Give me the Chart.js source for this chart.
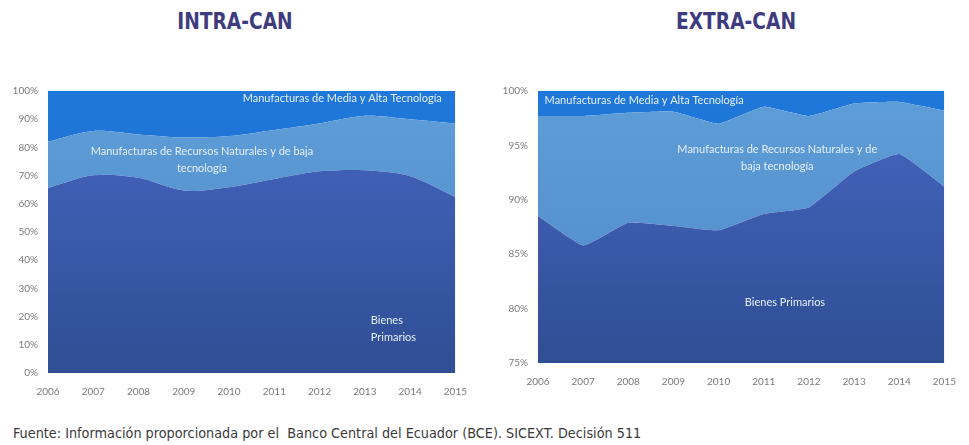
<!DOCTYPE html>
<html>
<head>
<meta charset="utf-8">
<script src="https://cdn.jsdelivr.net/npm/chart.js@4"></script>
<style>
  body { margin: 0; background: #fff; width: 969px; height: 445px; position: relative; overflow: hidden; }
  .title { position: absolute; top: 8px; font-family: "Liberation Sans Narrow", "DejaVu Sans Condensed", sans-serif;
           font-weight: bold; font-size: 23px; color: #3e3c7e; width: 300px; text-align: center; transform: scaleX(0.9); }
  .box { position: absolute; }
  #foot { position: absolute; left: 13px; top: 425px; font-family: "Liberation Sans Narrow", "DejaVu Sans Condensed", sans-serif;
          font-size: 14.5px; color: #3a3a3a; white-space: nowrap; transform: scaleX(0.985); transform-origin: left center; }
</style>
</head>
<body>
<div class="title" style="left:85px">INTRA-CAN</div>
<div class="title" style="left:586px">EXTRA-CAN</div>
<div class="box" style="left:0;top:75px;width:480px;height:330px"><canvas id="intra"></canvas></div>
<div class="box" style="left:490px;top:75px;width:479px;height:320px"><canvas id="extra"></canvas></div>
<div id="foot">Fuente: Información proporcionada por el&nbsp; Banco Central del Ecuador (BCE). SICEXT. Decisión 511</div>
<script>
const years = ['2006', '2007', '2008', '2009', '2010', '2011', '2012', '2013', '2014', '2015'];
const seriesNames = ['Bienes Primarios', 'Manufacturas de Recursos Naturales y de baja tecnología', 'Manufacturas de Media y Alta Tecnología'];

// INTRA-CAN shares (%)
const intraPrimarios = [65.6, 70.1, 69.2, 64.7, 65.9, 68.8, 71.5, 71.9, 69.8, 62.4];
const intraRecursos = [16.4, 15.7, 15.4, 18.8, 18.1, 17.4, 17.0, 19.3, 20.2, 26.1];
const intraMediaAlta = [18.0, 14.2, 15.4, 16.5, 16.0, 13.8, 11.5, 8.8, 10.0, 11.5];

// EXTRA-CAN shares (%)
const extraPrimarios = [88.5, 85.8, 87.9, 87.6, 87.2, 88.7, 89.3, 92.6, 94.2, 91.2];
const extraRecursos = [9.2, 11.9, 10.1, 10.5, 9.8, 9.85, 8.4, 6.25, 4.8, 7.0];
const extraMediaAlta = [2.3, 2.3, 2.0, 1.9, 3.0, 1.45, 2.3, 1.15, 1.0, 1.8];

const intraNotes = [
  { text: 'Manufacturas de Media y Alta Tecnología', x: 6.5, y: 97.3, align: 'center' },
  { text: 'Manufacturas de Recursos Naturales y de baja', x: 3.4, y: 78.5, align: 'center' },
  { text: 'tecnología', x: 3.4, y: 72.5, align: 'center' },
  { text: 'Bienes', x: 7.13, y: 18.7, align: 'left' },
  { text: 'Primarios', x: 7.13, y: 12.7, align: 'left' }
];
const extraNotes = [
  { text: 'Manufacturas de Media y Alta Tecnología', x: 2.35, y: 99.1, align: 'center' },
  { text: 'Manufacturas de Recursos Naturales y de', x: 5.3, y: 94.6, align: 'center' },
  { text: 'baja tecnología', x: 5.3, y: 93.1, align: 'center' },
  { text: 'Bienes Primarios', x: 5.47, y: 80.6, align: 'center' }
];

const noteFont = '11px Lato, "Open Sans", sans-serif';

const notesPlugin = {
  id: 'notes',
  afterDatasetsDraw(chart, args, opts) {
    const ctx = chart.ctx;
    const xs = chart.scales.x, ys = chart.scales.y;
    ctx.save();
    ctx.font = noteFont;
    ctx.fillStyle = '#e6eef9';
    ctx.textBaseline = 'middle';
    opts.items.forEach(n => {
      const i = Math.floor(n.x), f = n.x - i;
      const px = xs.getPixelForValue(i) + f * (xs.getPixelForValue(1) - xs.getPixelForValue(0));
      ctx.textAlign = n.align;
      ctx.fillText(n.text, px, ys.getPixelForValue(n.y));
    });
    ctx.restore();
  }
};

function gradient(ctx, top, bottom) {
  const area = ctx.chart.chartArea;
  if (!area) return top;
  const g = ctx.chart.ctx.createLinearGradient(0, area.top, 0, area.bottom);
  g.addColorStop(0, top);
  g.addColorStop(1, bottom);
  return g;
}

function makeChart(id, data, yMin, yStep, tension, notes, padRight, padTop) {
  new Chart(document.getElementById(id), {
    type: 'line',
    data: {
      labels: years,
      datasets: [
        { label: seriesNames[0], data: data[0], fill: 'origin', tension: tension,
          backgroundColor: c => gradient(c, '#4666c2', '#2f4e94') },
        { label: seriesNames[1], data: data[1], fill: '-1', tension: tension,
          backgroundColor: c => gradient(c, '#5e9ed8', '#4f88c8') },
        { label: seriesNames[2], data: data[2], fill: '-1', tension: tension,
          backgroundColor: c => gradient(c, '#1f78da', '#1a68c4') }
      ]
    },
    options: {
      responsive: true,
      maintainAspectRatio: false,
      animation: false,
      elements: { point: { radius: 0 }, line: { borderWidth: 0 } },
      layout: { padding: { left: 0, right: padRight, top: padTop, bottom: 0 } },
      plugins: { legend: { display: false }, tooltip: { enabled: false }, notes: { items: notes } },
      scales: {
        x: {
          grid: { display: false, drawTicks: false },
          border: { display: false },
          offset: false,
          ticks: { color: '#7a7a7a', font: { family: 'Lato', size: 10 }, padding: 13, maxRotation: 0 },
          afterFit: s => { s.height = 32; }
        },
        y: {
          stacked: true,
          min: yMin, max: 100,
          grid: { display: false, drawTicks: false },
          border: { display: false },
          ticks: { stepSize: yStep, color: '#7a7a7a', font: { family: 'Lato', size: 10 }, padding: 10,
                   callback: v => v + '%' },
          afterFit: s => { s.width = 48; }
        }
      }
    },
    plugins: [notesPlugin]
  });
}

makeChart('intra', [intraPrimarios, intraRecursos, intraMediaAlta], 0, 10, 0.3, intraNotes, 17, 14);
makeChart('extra', [extraPrimarios, extraRecursos, extraMediaAlta], 75, 5, 0.12, extraNotes, 16, 12);
</script>
</body>
</html>
